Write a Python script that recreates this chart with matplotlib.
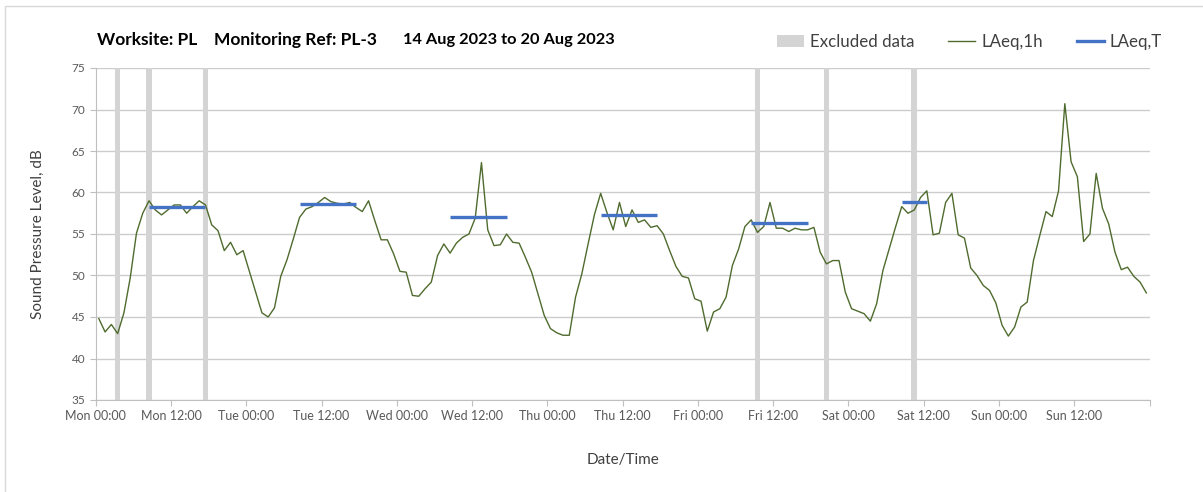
import numpy as np
import pandas as pd
import matplotlib
matplotlib.use("Agg")
import matplotlib.pyplot as plt
import matplotlib.dates as mdates
from matplotlib.patches import Patch, Rectangle
from matplotlib.lines import Line2D

plt.rcParams['font.family'] = ['Lato', 'DejaVu Sans']

# hourly LAeq,1h, Mon 14 Aug 00:00 -> Sun 20 Aug 23:00 (plotted at mid-hour)
laeq_1h = [
    # Mon
    44.8, 43.2, 44.1, 43.0, 45.5, 49.7, 55.1, 57.5, 59.0, 57.9, 57.3, 57.9,
    58.5, 58.5, 57.5, 58.3, 59.0, 58.5, 56.1, 55.4, 53.0, 54.0, 52.5, 53.0,
    # Tue
    50.5, 48.0, 45.5, 45.0, 46.1, 49.9, 51.9, 54.4, 57.0, 58.0, 58.3, 58.8,
    59.4, 58.9, 58.7, 58.6, 58.8, 58.2, 57.7, 59.0, 56.6, 54.3, 54.3, 52.6,
    # Wed
    50.5, 50.4, 47.6, 47.5, 48.4, 49.2, 52.4, 53.8, 52.7, 53.9, 54.6, 55.0,
    56.9, 63.6, 55.5, 53.6, 53.7, 55.0, 54.0, 53.9, 52.2, 50.4, 47.8, 45.2,
    # Thu
    43.6, 43.1, 42.8, 42.8, 47.4, 50.2, 53.8, 57.3, 59.9, 57.6, 55.5, 58.8,
    55.9, 57.9, 56.4, 56.7, 55.8, 56.0, 55.0, 53.0, 51.1, 49.9, 49.7, 47.2,
    # Fri
    46.9, 43.3, 45.6, 46.0, 47.4, 51.2, 53.2, 55.9, 56.7, 55.2, 55.9, 58.8,
    55.7, 55.7, 55.3, 55.7, 55.5, 55.5, 55.8, 52.8, 51.4, 51.8, 51.8, 48.0,
    # Sat
    46.0, 45.7, 45.4, 44.5, 46.6, 50.6, 53.2, 55.8, 58.3, 57.5, 57.9, 59.4,
    60.2, 54.9, 55.1, 58.8, 59.9, 54.9, 54.5, 50.9, 50.0, 48.8, 48.2, 46.7,
    # Sun
    44.0, 42.7, 43.8, 46.2, 46.8, 51.8, 54.8, 57.7, 57.1, 60.2, 70.7, 63.7,
    61.9, 54.1, 55.0, 62.3, 58.1, 56.2, 52.8, 50.7, 51.0, 49.9, 49.2, 47.9,
]

# excluded hours (hour index from Mon 00:00)
excluded_hours = [3, 8, 17, 105, 116, 130]

# LAeq,T periods: first and last hour index, level
period_start = [8, 32, 56, 80, 104, 128]
period_end = [17, 41, 65, 89, 113, 132]
laeq_t = [58.2, 58.6, 57.0, 57.3, 56.3, 58.9]

title_parts = ["Worksite: PL", "Monitoring Ref: PL-3", "14 Aug 2023 to 20 Aug 2023"]

t0 = pd.Timestamp("2023-08-14 00:00")
t_end = t0 + pd.Timedelta(hours=168)
times = t0 + pd.to_timedelta(np.arange(len(laeq_1h)) + 0.5, unit="h")
hour = pd.Timedelta(hours=1)

fig = plt.figure(figsize=(12.03, 4.92), dpi=100)
fig.patches.append(Rectangle((5 / 1203, -0.1), 1.2, 1 - 6 / 492 + 0.1,
                             transform=fig.transFigure, fill=False,
                             edgecolor="#d9d9d9", lw=1))
ax = fig.add_axes([95.7 / 1203, 1 - 400 / 492, (1149.5 - 95.7) / 1203, (400 - 68) / 492])

ex_t = [t0 + (h + 0.5) * hour for h in excluded_hours]
ax.bar(ex_t, [40] * len(ex_t), bottom=35, width=0.9 / 24, color="#d4d4d4",
       zorder=1)

ax.plot(times, laeq_1h, color="#4f6b2e", lw=1.0, zorder=3)

for s, e, v in zip(period_start, period_end, laeq_t):
    ax.plot([t0 + (s + 0.5) * hour, t0 + (e + 0.5) * hour], [v, v],
            color="#4472c4", lw=2.4, solid_capstyle="butt", zorder=4)

end_num = mdates.date2num(t_end)


def fmt_x(x, pos=None):
    if abs(x - end_num) < 1e-6:
        return ""
    return mdates.num2date(x).strftime("%a %H:%M")


ax.set_xlim(t0, t_end)
ax.set_ylim(35, 75)
ax.set_yticks(np.arange(35, 76, 5))
ax.xaxis.set_major_locator(mdates.HourLocator(byhour=[0, 12]))
ax.xaxis.set_major_formatter(plt.FuncFormatter(fmt_x))
ax.xaxis.set_minor_locator(mdates.DayLocator())
ax.grid(axis="y", color="#cccccc", lw=1, zorder=0)
ax.grid(axis="x", which="minor", color="#e0e0e0", lw=1, zorder=0)
ax.set_axisbelow(True)
ax.tick_params(axis="x", which="minor", length=0)
ax.tick_params(axis="both", which="major", length=4, color="#bfbfbf",
               labelcolor="#595959", labelsize=9)
ax.tick_params(axis="y", labelsize=8.5)
for side in ["top", "right"]:
    ax.spines[side].set_visible(False)
for side in ["left", "bottom"]:
    ax.spines[side].set_color("#bfbfbf")

ax.set_ylabel("Sound Pressure Level, dB", fontsize=11, color="#404040", labelpad=19)
ax.set_xlabel("Date/Time", fontsize=11, color="#404040", labelpad=22)

title_x = [97, 214, 403]
title_size = [12.5, 12.5, 11.8]
for tx, fs, txt in zip(title_x, title_size, title_parts):
    fig.text(tx / 1203, 1 - 40 / 492, txt, fontsize=fs, fontweight="bold",
             color="#000000", ha="left", va="center")

handles = [Patch(facecolor="#d4d4d4", edgecolor="none"),
           Line2D([], [], color="#4f6b2e", lw=1.0),
           Line2D([], [], color="#4472c4", lw=2.4)]
fig.legend(handles, ["Excluded data", "LAeq,1h", "LAeq,T"], ncol=3,
           loc="center right", bbox_to_anchor=(1162 / 1203, 1 - 42 / 492),
           frameon=False, fontsize=12.2, handlelength=1.6, handletextpad=0.35,
           columnspacing=2.0, borderpad=0, borderaxespad=0,
           labelcolor="#404040")

fig.savefig("out.png", dpi=100)
